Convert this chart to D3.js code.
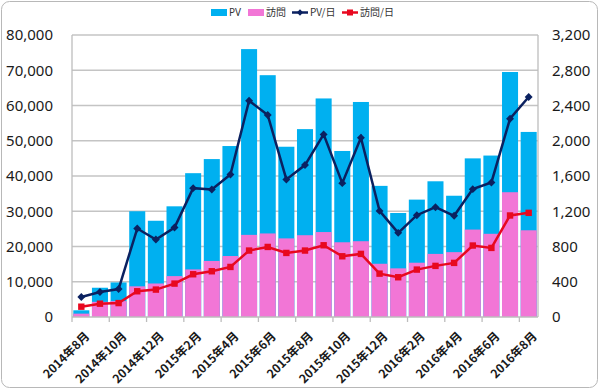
<!DOCTYPE html>
<html>
<head>
<meta charset="utf-8">
<script src="https://cdn.jsdelivr.net/npm/d3@7"></script>
<style>
  body { margin: 0; background: #fff; }
  svg { display: block; }
</style>
</head>
<body>
<div id="chart"></div>
<script>
let months = ['2014年8月','2014年9月','2014年10月','2014年11月','2014年12月',
  '2015年1月','2015年2月','2015年3月','2015年4月','2015年5月','2015年6月','2015年7月',
  '2015年8月','2015年9月','2015年10月','2015年11月','2015年12月',
  '2016年1月','2016年2月','2016年3月','2016年4月','2016年5月','2016年6月','2016年7月','2016年8月'];
let pv = [1900,8300,9800,30000,27300,31400,40800,44800,48500,76000,68600,48300,
  53300,62000,47100,61000,37200,29500,33300,38500,34400,45000,45800,69500,52500];
let visits = [950,4300,4500,8700,9500,11600,13500,15900,17300,23300,23700,22300,
  23200,24100,21200,21500,15100,13800,15400,17900,18400,24800,23600,35400,24600];
let pvDay = [227,283,317,1004,879,1015,1462,1447,1617,2454,2292,1561,
  1724,2072,1519,2034,1204,955,1155,1246,1148,1451,1527,2250,2496];
let visitsDay = [117,151,158,292,311,379,485,519,568,754,795,727,
  754,814,689,716,492,451,538,580,614,811,784,1152,1182];
let leftTicks = [0,10000,20000,30000,40000,50000,60000,70000,80000];
let rightTicks = [0,400,800,1200,1600,2000,2400,2800,3200];

let width = 600, height = 390;
let pLeft = 72, pRight = 538, pTop = 35, pBottom = 317;
let blue = '#00b0f0', pink = '#f276d6', navy = '#0b2160', red = '#e8081f';

let svg = d3.select('#chart').append('svg')
  .attr('width', width)
  .attr('height', height)
  .style('font-family', '"Noto Sans", "Noto Sans CJK JP", sans-serif');

svg.append('rect')
  .attr('x', 1.5).attr('y', 1.5)
  .attr('width', width - 4).attr('height', height - 4)
  .attr('rx', 8)
  .attr('fill', '#fff')
  .attr('stroke', '#b8b8b8');

let x = d3.scaleBand().domain(months).range([pLeft, pRight])
  .paddingInner(0.14).paddingOuter(0.07);
let yL = d3.scaleLinear().domain([0, 80000]).range([pBottom, pTop]);
let yR = d3.scaleLinear().domain([0, 3200]).range([pBottom, pTop]);
let step = x.step();
let cx = d => x(d) + x.bandwidth() / 2;

// gridlines
svg.append('g').selectAll('line')
  .data(leftTicks.slice(1))
  .enter().append('line')
    .attr('x1', pLeft).attr('x2', pRight)
    .attr('y1', d => yL(d)).attr('y2', d => yL(d))
    .attr('stroke', '#c4c4c4').attr('stroke-width', 1.3);

// bars: PV behind, 訪問 in front
svg.append('g').selectAll('rect')
  .data(pv)
  .enter().append('rect')
    .attr('x', (d, i) => x(months[i]))
    .attr('width', x.bandwidth())
    .attr('y', d => yL(d))
    .attr('height', d => pBottom - yL(d))
    .attr('fill', blue);
svg.append('g').selectAll('rect')
  .data(visits)
  .enter().append('rect')
    .attr('x', (d, i) => x(months[i]))
    .attr('width', x.bandwidth())
    .attr('y', d => yL(d))
    .attr('height', d => pBottom - yL(d))
    .attr('fill', pink);

// axes lines
let axisColor = '#bdbdbd';
svg.append('line').attr('x1', pLeft).attr('x2', pLeft).attr('y1', pTop).attr('y2', pBottom + 5)
  .attr('stroke', axisColor).attr('stroke-width', 1.3);
svg.append('line').attr('x1', pRight).attr('x2', pRight).attr('y1', pTop).attr('y2', pBottom)
  .attr('stroke', axisColor).attr('stroke-width', 1.3);
svg.append('line').attr('x1', pLeft).attr('x2', pRight).attr('y1', pBottom).attr('y2', pBottom)
  .attr('stroke', axisColor).attr('stroke-width', 1.3);
svg.append('g').selectAll('line')
  .data(d3.range(2, months.length, 2))
  .enter().append('line')
    .attr('x1', i => pLeft + i * step).attr('x2', i => pLeft + i * step)
    .attr('y1', pBottom).attr('y2', pBottom + 5)
    .attr('stroke', axisColor).attr('stroke-width', 1.3);

// tick labels
let fmt = d3.format(',');
svg.append('g').selectAll('text')
  .data(leftTicks)
  .enter().append('text')
    .attr('x', 53).attr('y', d => yL(d))
    .attr('dy', '0.35em')
    .attr('text-anchor', 'end')
    .attr('font-size', 15)
    .attr('fill', '#1a1a1a')
    .text(d => fmt(d));
svg.append('g').selectAll('text')
  .data(rightTicks)
  .enter().append('text')
    .attr('x', 552).attr('y', d => yR(d))
    .attr('dy', '0.35em')
    .attr('font-size', 15)
    .attr('fill', '#1a1a1a')
    .text(d => fmt(d));
svg.append('g').selectAll('text')
  .data(months.filter((m, i) => i % 2 === 0))
  .enter().append('text')
    .attr('transform', d => `translate(${cx(d) + 6},${pBottom + 17}) rotate(-45)`)
    .attr('text-anchor', 'end')
    .attr('dy', '0.35em')
    .attr('font-size', 12)
    .attr('font-weight', 'bold')
    .attr('font-family', '"Noto Sans CJK JP", sans-serif')
    .attr('fill', '#1a1a1a')
    .text(d => d);

// lines
let line = d3.line().x((d, i) => cx(months[i])).y(d => yR(d));
svg.append('path').datum(pvDay)
  .attr('d', line).attr('fill', 'none')
  .attr('stroke', navy).attr('stroke-width', 2.5);
svg.append('g').selectAll('path')
  .data(pvDay)
  .enter().append('path')
    .attr('d', d3.symbol(d3.symbolDiamond2, 40))
    .attr('transform', (d, i) => `translate(${cx(months[i])},${yR(d)})`)
    .attr('fill', navy);
svg.append('path').datum(visitsDay)
  .attr('d', line).attr('fill', 'none')
  .attr('stroke', red).attr('stroke-width', 2.5);
svg.append('g').selectAll('rect')
  .data(visitsDay)
  .enter().append('rect')
    .attr('x', (d, i) => cx(months[i]) - 3.2)
    .attr('y', d => yR(d) - 3.2)
    .attr('width', 6.4).attr('height', 6.4)
    .attr('fill', red);

// legend
let legend = svg.append('g').attr('font-size', 10).attr('fill', '#333');
legend.append('rect').attr('x', 211).attr('y', 9).attr('width', 16).attr('height', 7).attr('fill', blue);
legend.append('text').attr('x', 229).attr('y', 12.5).attr('dy', '0.35em').text('PV');
legend.append('rect').attr('x', 248).attr('y', 9).attr('width', 16).attr('height', 7).attr('fill', pink);
legend.append('text').attr('x', 266).attr('y', 12.5).attr('dy', '0.35em')
  .attr('font-family', '"Noto Sans CJK JP", sans-serif').text('訪問');
legend.append('line').attr('x1', 292).attr('x2', 308).attr('y1', 12.5).attr('y2', 12.5)
  .attr('stroke', navy).attr('stroke-width', 2.5);
legend.append('path').attr('d', d3.symbol(d3.symbolDiamond2, 25))
  .attr('transform', 'translate(300,12.5)').attr('fill', navy);
legend.append('text').attr('x', 310).attr('y', 12.5).attr('dy', '0.35em')
  .attr('font-family', '"Noto Sans CJK JP", sans-serif').text('PV/日');
legend.append('line').attr('x1', 342).attr('x2', 358).attr('y1', 12.5).attr('y2', 12.5)
  .attr('stroke', red).attr('stroke-width', 2.5);
legend.append('rect').attr('x', 347).attr('y', 9.5).attr('width', 6).attr('height', 6).attr('fill', red);
legend.append('text').attr('x', 360).attr('y', 12.5).attr('dy', '0.35em')
  .attr('font-family', '"Noto Sans CJK JP", sans-serif').text('訪問/日');
</script>
</body>
</html>
